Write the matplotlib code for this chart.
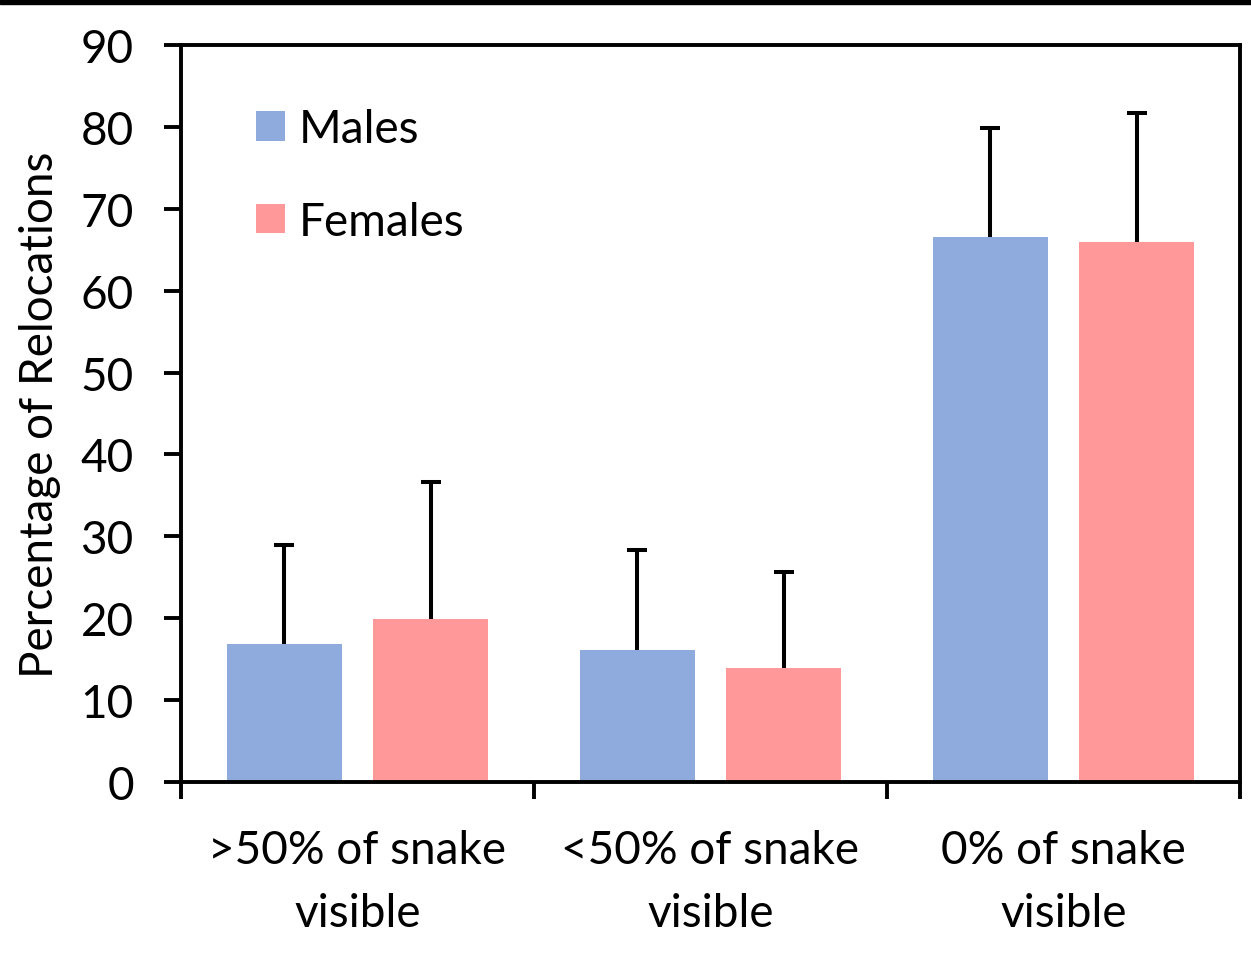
import matplotlib
matplotlib.use("Agg")
import matplotlib.pyplot as plt
import numpy as np
from matplotlib.patches import Rectangle

categories = [">50% of snake\nvisible", "<50% of snake\nvisible", "0% of snake\nvisible"]
males = [16.8, 16.1, 66.6]
females = [19.9, 13.9, 65.9]
males_err = [12.2, 12.2, 13.3]
females_err = [16.7, 11.7, 15.8]
yticks = [0, 10, 20, 30, 40, 50, 60, 70, 80, 90]

male_color = "#8FAADC"
female_color = "#FF9999"

plt.rcParams["font.family"] = ["Lato", "DejaVu Sans"]
FS = 33

fig = plt.figure(figsize=(12.51, 9.62), dpi=100)
ax = fig.add_axes([181 / 1251, 1 - 783 / 962, (1240 - 181) / 1251, (783 - 46) / 962])

x = np.arange(len(categories))
width = 0.326
off = 0.207

ax.bar(x - off, males, width, color=male_color, label="Males", zorder=2)
ax.bar(x + off, females, width, color=female_color, label="Females", zorder=2)

# one-sided (upper) error bars: stem from bar top, cap at the end
for pos, vals, errs in ((x - off, males, males_err), (x + off, females, females_err)):
    vals = np.asarray(vals)
    tops = vals + np.asarray(errs)
    ax.vlines(pos, vals, tops, colors="black", linewidth=2.9, zorder=1)
    ax.plot(pos, tops, linestyle="none", marker="_", markersize=15,
            markeredgewidth=2.9, color="black", zorder=1)

ax.set_xlim(-0.5, 2.5)
ax.set_ylim(0, 90)
ax.set_yticks(yticks)
ax.set_xticks([-0.5, 0.5, 1.5, 2.5])
ax.set_xticklabels([])
ax.set_xticks(x, minor=True)
ax.set_xticklabels(categories, minor=True, fontsize=FS, linespacing=1.62)
ax.tick_params(axis="x", which="minor", length=0, pad=34)
ax.tick_params(axis="x", which="major", length=12, width=2.8, direction="out")
ax.tick_params(axis="y", length=12, width=2.8, direction="out", labelsize=FS, pad=22)

for s in ax.spines.values():
    s.set_linewidth(2.8)

ax.set_ylabel("Percentage of Relocations", fontsize=FS, labelpad=14)

ax.legend(loc="upper left", bbox_to_anchor=(0.032, 0.97), frameon=False, fontsize=FS,
          handlelength=0.62, handleheight=0.62, handletextpad=0.3, labelspacing=1.1)

fig.patches.append(Rectangle((0, 1 - 5 / 962), 1, 5 / 962, transform=fig.transFigure,
                             color="black", zorder=10))

fig.savefig("out.png", dpi=100)
